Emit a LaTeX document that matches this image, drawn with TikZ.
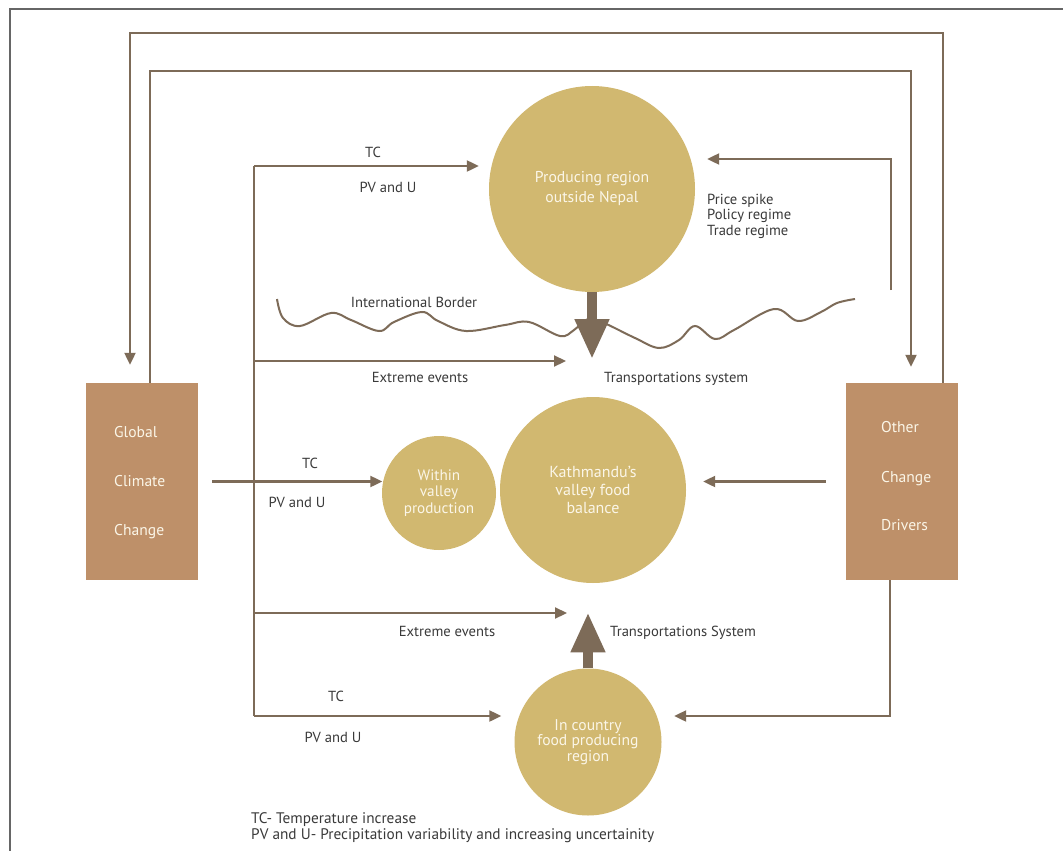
\documentclass[tikz,border=0pt]{standalone}
\usepackage{fontspec}
\setmainfont{PT Sans}
\usetikzlibrary{arrows.meta,calc}
\definecolor{linebrown}{HTML}{7D6B58}
\definecolor{circfill}{HTML}{D1B870}
\definecolor{boxfill}{HTML}{BE9069}
\definecolor{txt}{HTML}{3A3A3A}
\definecolor{framegray}{HTML}{666666}
\definecolor{pale}{HTML}{FBF6E8}
\begin{document}
\begin{tikzpicture}[x=1pt,y=-1pt,
  flow/.style={draw=linebrown,line width=2.2pt,-{Triangle[length=12pt,width=11pt]}},
  conn/.style={draw=linebrown,line width=2.2pt},
  bigarrow/.style={draw=linebrown,line width=10.5pt,-{Triangle[length=40pt,width=32pt]}},
  pool/.style={circle,fill=circfill,inner sep=0pt,text=pale,align=center},
  driver/.style={rectangle,fill=boxfill,minimum width=112pt,minimum height=197pt,inner sep=0pt},
  drvtext/.style={text=pale,anchor=base west,font=\fontsize{15.6}{18}\selectfont,inner sep=0pt},
  lbl/.style={text=txt,anchor=base,font=\fontsize{14.6}{16}\selectfont,inner sep=0pt},
  lblw/.style={lbl,anchor=base west},
  legend/.style={lblw,font=\fontsize{15.3}{16}\selectfont},
]
\useasboundingbox (0,0) rectangle (1063,851);
\fill[white] (0,0) rectangle (1063,851);
% page frame
\draw[framegray,line width=2pt] (10,851) -- (10,9) -- (1063,9);

% driver boxes
\node[driver] (global) at (142,481.5) {};
\node[drvtext] (g1) at (114,437) {Global};
\node[drvtext] (g2) at (114,486) {Climate};
\node[drvtext] (g3) at (114,535) {Change};
\node[driver] (other) at (902,481.5) {};
\node[drvtext] (o1) at (881,432) {Other};
\node[drvtext] (o2) at (881,482) {Change};
\node[drvtext] (o3) at (881,530) {Drivers};

% food pools
\node[pool,minimum size=206pt,font=\fontsize{15.7}{20}\selectfont] (prod) at (592,189) {Producing region\\outside Nepal};
\node[pool,minimum size=186pt,font=\fontsize{16}{18}\selectfont] (ktm) at (593,490) {Kathmandu’s\\valley food\\balance};
\node[pool,minimum size=114pt,font=\fontsize{15.2}{16.5}\selectfont] (within) at (439,493) {Within\\valley\\production};
\node[pool,minimum size=147pt,font=\fontsize{15.6}{14}\selectfont] (incountry) at (588,742) {In country\\food producing\\region};

% climate trunk and its branches
\coordinate (trunkTop) at (254,166);
\coordinate (trunkBot) at (254,716);
\coordinate (t1) at (254,361);
\coordinate (t2) at (254,613);
\coordinate (ee1) at (566,361);
\coordinate (ee2) at (567,613);
\draw[conn] (trunkTop) -- (trunkBot);
\draw[flow,shorten >=10pt] (trunkTop) -- (trunkTop -| prod.west);
\draw[flow] (t1) -- (ee1);
\draw[flow] (t2) -- (ee2);
\draw[flow,shorten >=13pt] (trunkBot) -- (trunkBot -| incountry.west);
\draw[flow,shorten >=13.5pt] ([xshift=14pt]global.east) -- ([xshift=14pt]global.east -| within.west);

% other change drivers
\draw[flow,shorten >=17pt] ([xshift=-20pt]other.west) -- (ktm.east |- other.west);
\draw[flow,shorten >=12.5pt] ([xshift=-12pt]other.south) |- (trunkBot -| incountry.east);
\coordinate (ps0) at (891,290);
\draw[flow] (ps0) |- ([xshift=12pt,yshift=30pt]prod.east);

% feedback loops
\draw[flow] ([xshift=8pt]global.north) -- ++(0,-312) -| ([xshift=9pt,yshift=16pt]other.north);
\draw[flow] ([xshift=41pt]other.north) -- ++(0,-350) -| ([xshift=-12pt,yshift=18pt]global.north);

% transport flows
\draw[bigarrow] (prod.south) -- ++(0,67);
\draw[bigarrow] (incountry.north) -- ++(0,-56);

% international border
\draw[conn,line width=2pt] plot[smooth,tension=0.6] coordinates {
 (277,299) (283,318) (300,326) (331,313) (351,320) (379,331) (394,322)
 (422,312) (438,321) (466,331) (505,325) (529,322) (560,336) (574,330)
 (588,319) (604,323) (635,338) (659,348) (679,340) (695,326) (715,339)
 (734,330) (774,309) (798,321) (821,312) (837,303) (855,299)};

% labels
\node[lbl] (tc1) at (373,157) {TC};
\node[lbl] (pv1) at (388,192) {PV and U};
\node[lblw] (ps1) at (707,204) {Price spike};
\node[lblw] (ps2) at (707,219) {Policy regime};
\node[lblw] (ps3) at (707,235) {Trade regime};
\node[lbl] (ib) at (414,307) {International Border};
\node[lbl] (ex1) at (420,382) {Extreme events};
\node[lblw] (tr1) at (604,382) {Transportations system};
\node[lbl] (tc2) at (310,468) {TC};
\node[lbl] (pv2) at (297,507) {PV and U};
\node[lbl] (ex2) at (447,636) {Extreme events};
\node[lblw] (tr2) at (610,636) {Transportations System};
\node[lbl] (tc3) at (336,701) {TC};
\node[lbl] (pv3) at (333,742) {PV and U};
\node[legend] (leg1) at (251,823) {TC- Temperature increase};
\node[legend] (leg2) at (251,839) {PV and U- Precipitation variability and increasing uncertainity};
\end{tikzpicture}
\end{document}
